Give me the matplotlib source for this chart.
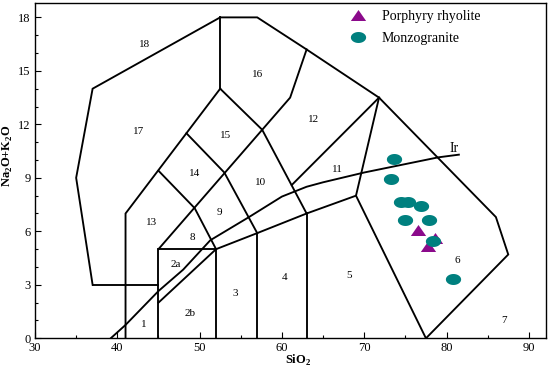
import matplotlib
matplotlib.use("Agg")
import matplotlib.pyplot as plt
from matplotlib.path import Path
import numpy as np

plt.rcParams['font.family'] = ['Liberation Serif', 'DejaVu Serif']
plt.rcParams['mathtext.fontset'] = 'custom'
plt.rcParams['mathtext.rm'] = 'Liberation Serif'
plt.rcParams['mathtext.bf'] = 'Liberation Serif:bold'

# ---- field boundaries (SiO2, Na2O+K2O) ----
outer = [(37, 3), (35, 9), (37, 14), (52.5, 18), (57, 18), (63, 16.2),
         (71.8, 13.5), (86, 6.8), (87.5, 4.7), (77.5, 0)]
inner_lines = [
    [(37, 3), (45, 3)],
    [(41, 0), (41, 7), (52.5, 14)],
    [(52.5, 14), (52.5, 18)],
    [(45, 0), (45, 5), (52, 5), (52, 0)],
    [(45, 2), (52, 5), (57, 5.9), (63, 7), (69, 8)],
    [(57, 0), (57, 5.9)],
    [(63, 0), (63, 7)],
    [(77.5, 0), (69, 8), (71.8, 13.5)],
    [(45, 5), (61, 13.5), (63, 16.2)],
    [(45, 9.4), (49.4, 7.3), (52, 5)],
    [(48.4, 11.5), (53, 9.3), (57, 5.9)],
    [(52.5, 14), (57.6, 11.7), (63, 7)],
    [(71.8, 13.5), (61.2, 8.6)],
]
irvine_x = [39.2, 41, 45, 48, 51.3, 56, 60, 63, 65, 70, 79, 81.5]
irvine_y = [0, 0.75, 2.65, 3.85, 5.5, 6.8, 7.95, 8.5, 8.75, 9.3, 10.15, 10.3]

field_labels = ['18', '16', '17', '15', '14', '12', '11', '10', '9', '8', '13',
                '2a', '2b', '1', '3', '4', '5', '6', '7']
field_x = [43.3, 57.0, 42.6, 53.2, 49.4, 63.8, 66.8, 57.4, 52.4, 49.1, 44.2,
           47.1, 48.9, 43.2, 54.3, 60.3, 68.1, 81.3, 87.0]
field_y = [16.5, 14.8, 11.6, 11.4, 9.25, 12.25, 9.45, 8.75, 7.05, 5.65, 6.5,
           4.15, 1.4, 0.75, 2.5, 3.4, 3.5, 4.35, 1.0]

# ---- samples ----
monzo_sio2 = [73.6, 73.3, 74.5, 75.3, 76.9, 75.0, 77.9, 78.3, 80.8]
monzo_alk = [10.05, 8.95, 7.65, 7.65, 7.4, 6.65, 6.65, 5.45, 3.35]
rhy_sio2 = [76.5, 78.6, 77.7]
rhy_alk = [6.05, 5.65, 5.2]

fig = plt.figure(figsize=(5.5, 3.68), dpi=100)
ax = fig.add_axes([35/550, 1-338.3/368, 510.7/550, 335/368])

lw = 1.35
ox, oy = zip(*outer)
ax.plot(ox, oy, color='black', lw=lw, solid_joinstyle='miter')
for ln in inner_lines:
    xs, ys = zip(*ln)
    ax.plot(xs, ys, color='black', lw=lw, solid_joinstyle='miter')
ax.plot(irvine_x, irvine_y, color='black', lw=lw)
ax.text(80.9, 10.65, 'Ir', fontsize=10, ha='center', va='center')

for t, x, y in zip(field_labels, field_x, field_y):
    ax.text(x, y, t, fontsize=8, ha='center', va='center')

t = np.linspace(0, 2*np.pi, 40)
ell = Path(np.column_stack([np.cos(t), 0.72*np.sin(t)]), closed=True)
tri = Path([(-1, -0.72), (1, -0.72), (0, 0.72), (-1, -0.72)], closed=True)

ax.plot(rhy_sio2, rhy_alk, ls='none', marker=tri, markersize=11,
        color='#8B0A8B', markeredgewidth=0, label='Porphyry rhyolite', zorder=3)
ax.plot(monzo_sio2, monzo_alk, ls='none', marker=ell, markersize=11,
        color='#00807F', markeredgewidth=0, label='Monzogranite', zorder=4)

ax.set_xlim(30, 92.05)
ax.set_ylim(0, 18.79)
ax.set_xticks([30, 40, 50, 60, 70, 80, 90])
ax.set_xticks(np.arange(35, 92, 10), minor=True)
ax.set_yticks([0, 3, 6, 9, 12, 15, 18])
ax.set_yticks(np.arange(0, 18.8, 1), minor=True)
ax.tick_params(which='both', direction='in', top=False, right=False,
               labelsize=9, width=0.8)
ax.tick_params(which='major', length=4, pad=3)
ax.tick_params(which='minor', length=2)
for s in ax.spines.values():
    s.set_linewidth(1.0)

ax.text(0.515, -0.066, 'SiO$_\\mathbf{2}$', transform=ax.transAxes,
        fontsize=9, fontweight='bold', ha='center', va='center')
ax.text(-0.052, 0.544, 'Na$_\\mathbf{2}$O+K$_\\mathbf{2}$O', transform=ax.transAxes,
        fontsize=9, fontweight='bold', ha='center', va='center', rotation=90)

leg = ax.legend(loc='upper left', bbox_to_anchor=(0.60, 0.997), frameon=False,
                fontsize=10, handlelength=1.6, handletextpad=0.9,
                labelspacing=0.65, borderaxespad=0)

fig.savefig('out.png', dpi=100)
